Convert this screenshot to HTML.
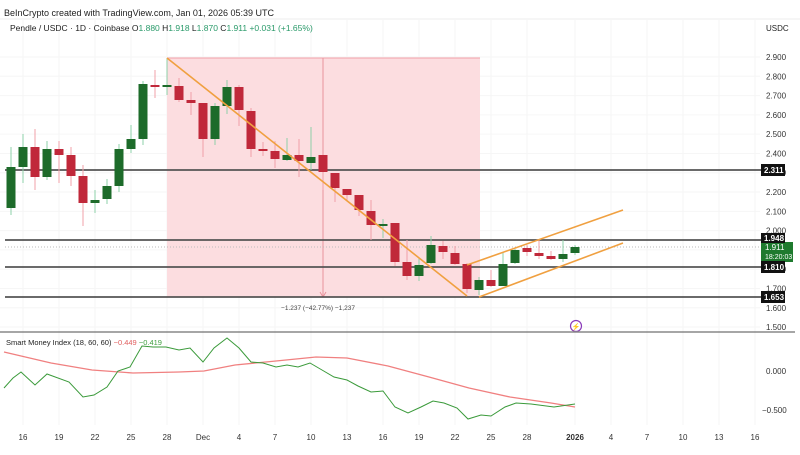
<!DOCTYPE html>
<html><head><meta charset="utf-8"><style>
body{margin:0;background:#fff;width:800px;height:450px;overflow:hidden;font-family:"Liberation Sans",sans-serif}
svg text{font-family:"Liberation Sans",sans-serif}
</style></head><body>
<svg id="c" width="800" height="450" xmlns="http://www.w3.org/2000/svg">
<rect width="800" height="450" fill="#fff"/>
<line x1="0" y1="19" x2="800" y2="19" stroke="#eee"/>
<text x="4" y="16" font-size="9" fill="#222">BeInCrypto created with TradingView.com, Jan 01, 2026 05:39 UTC</text>
<g id="grid"></g>
<rect x="167" y="58" width="313" height="239" fill="#fcdde0"/>
<line x1="167" y1="58" x2="480" y2="58" stroke="#f2a0a8" stroke-width="1"/>
<line x1="323" y1="58" x2="323" y2="297" stroke="#e9939c" stroke-width="1"/>
<path d="M320,292 L323,297 L326,292" fill="none" stroke="#e9939c"/>
<text x="318" y="310" font-size="6.5" fill="#444" text-anchor="middle">−1.237 (−42.77%) −1,237</text>
<g stroke="#555" stroke-width="1.8">
<line x1="5" y1="170" x2="785" y2="170"/>
<line x1="5" y1="240" x2="785" y2="240"/>
<line x1="5" y1="267" x2="785" y2="267"/>
<line x1="5" y1="297" x2="785" y2="297"/>
</g>
<line x1="5" y1="247" x2="785" y2="247" stroke="#bbb" stroke-dasharray="1,2"/>
<g id="cand"></g>
<g stroke="#f0a040" stroke-width="1.6" fill="none">
<line x1="167" y1="58" x2="467" y2="296"/>
<line x1="467" y1="265" x2="623" y2="210"/>
<line x1="479" y1="297" x2="623" y2="243"/>
</g>
<text x="10" y="31" font-size="8.5" fill="#222">Pendle / USDC · 1D · Coinbase  O<tspan fill="#2a9a6a">1.880</tspan> H<tspan fill="#2a9a6a">1.918</tspan> L<tspan fill="#2a9a6a">1.870</tspan> C<tspan fill="#2a9a6a">1.911</tspan> <tspan fill="#2a9a6a">+0.031 (+1.65%)</tspan></text>
<text x="766" y="31" font-size="8" fill="#222">USDC</text>
<g id="axis" font-size="8" fill="#333"></g>
<rect x="761" y="242" width="32" height="20" fill="#1e7a2e"/>
<text x="765" y="250" font-size="8" fill="#fff">1.911</text>
<text x="765" y="259" font-size="7" fill="#fff">18:20:03</text>
<g font-size="8" font-weight="bold">
<rect x="761" y="164" width="24" height="12" fill="#111"/><text x="764" y="173" fill="#fff">2.311</text>
<rect x="761" y="233" width="24" height="10" fill="#111"/><text x="764" y="241" fill="#fff">1.948</text>
<rect x="761" y="261" width="24" height="12" fill="#111"/><text x="764" y="270" fill="#fff">1.810</text>
<rect x="761" y="291" width="24" height="12" fill="#111"/><text x="764" y="300" fill="#fff">1.653</text>
</g>
<circle cx="576" cy="326" r="5.5" fill="#fff" stroke="#8a3ab9" stroke-width="1.2"/>
<text x="576" y="329" font-size="7" fill="#8a3ab9" text-anchor="middle">⚡</text>
<line x1="0" y1="332" x2="795" y2="332" stroke="#888" stroke-width="1.5"/>
<text x="6" y="345" font-size="7.5" fill="#222">Smart Money Index (18, 60, 60) <tspan fill="#e06060">−0.449</tspan> <tspan fill="#40a040">−0.419</tspan></text>
<text x="766" y="374" font-size="8" fill="#333">0.000</text>
<text x="762" y="413" font-size="8" fill="#333">−0.500</text>
<polyline fill="none" stroke="#f08080" stroke-width="1.3" points="4,352 51,363 92,370 133,373 179,372 204,371 235,365 276,361 316,357 347,358 388,366 429,377 469,388 510,397 551,403 575,407"/>
<polyline fill="none" stroke="#3a9a3a" stroke-width="1" points="4,388 13,378 21,372 35,385 47,374 69,382 83,397 94,395 107,387 118,371 130,367 142,346 153,347 166,347 179,350 190,348 203,362 214,348 227,338 239,348 251,362 263,363 276,367 287,365 298,367 310,363 322,370 334,377 347,380 358,386 371,392 383,391 395,407 408,413 421,407 433,401 444,403 457,408 468,419 481,415 491,416 505,407 516,403 531,404 554,407 575,404"/>
<g id="dates" font-size="8" fill="#333" text-anchor="middle"></g>
</svg>
<script>
var NS="http://www.w3.org/2000/svg";
function el(p,t,a,txt){var e=document.createElementNS(NS,t);for(var k in a)e.setAttribute(k,a[k]);if(txt)e.textContent=txt;document.getElementById(p).appendChild(e);}
var dx=[23,59,95,131,167,203,239,275,311,347,383,419,455,491,527,575,611,647,683,719,755];
var dl=["16","19","22","25","28","Dec","4","7","10","13","16","19","22","25","28","2026","4","7","10","13","16"];
dx.forEach(function(x,i){el("grid","line",{x1:x,y1:20,x2:x,y2:425,stroke:"#f4f4f4"});el("dates","text",{x:x,y:440,"font-weight":dl[i]=="2026"?"bold":"normal"},dl[i]);});
for(var p=29;p>=15;p--){var y=57+(29-p)*19.29;el("grid","line",{x1:0,y1:y,x2:760,y2:y,stroke:"#f6f6f6"});el("axis","text",{x:766,y:y+3},(p/10).toFixed(3));}
var c=[[1,167,208,147,215],[1,147,167,134,183],[0,147,177,129,190],[1,149,177,141,180],[0,149,155,141,183],[0,155,176,147,186],[0,176,203,165,226],[1,200,203,190,213],[1,186,199,179,204],[1,149,186,144,192],[1,139,149,125,153],[1,84,139,81,145],[0,85,86,70,98],[1,85,86,58,95],[0,86,100,78,102],[0,100,103,92,115],[0,103,139,103,157],[1,106,139,103,145],[1,87,106,80,114],[0,87,110,85,126],[0,111,149,108,157],[0,149,151,142,156],[0,151,159,141,168],[1,155,160,138,161],[0,155,161,139,177],[1,157,163,127,170],[0,155,172,155,190],[0,173,188,173,202],[0,189,195,189,201],[0,195,210,195,216],[0,211,225,200,240],[1,224,226,219,238],[0,223,262,223,266],[0,262,276,240,280],[1,265,276,258,281],[1,245,263,236,264],[0,246,252,241,259],[0,253,264,246,265],[0,264,289,263,293],[1,280,290,277,295],[0,280,286,270,287],[1,264,286,252,286],[1,250,263,249,264],[0,248,252,245,256],[0,253,256,240,259],[0,256,259,251,260],[1,254,259,240,262],[1,247,253,245,255]];
c.forEach(function(d,i){var x=11+12*i;var col=d[0]?"#1d6b2a":"#c0283a";var wc=d[0]?"#8ed0a8":"#f0a0a8";
el("cand","line",{x1:x,y1:d[3],x2:x,y2:d[4],stroke:wc,"stroke-width":1});
var h=Math.max(d[2]-d[1],2);el("cand","rect",{x:x-4.5,y:d[1],width:9,height:h,fill:col});});
</script>
</body></html>
